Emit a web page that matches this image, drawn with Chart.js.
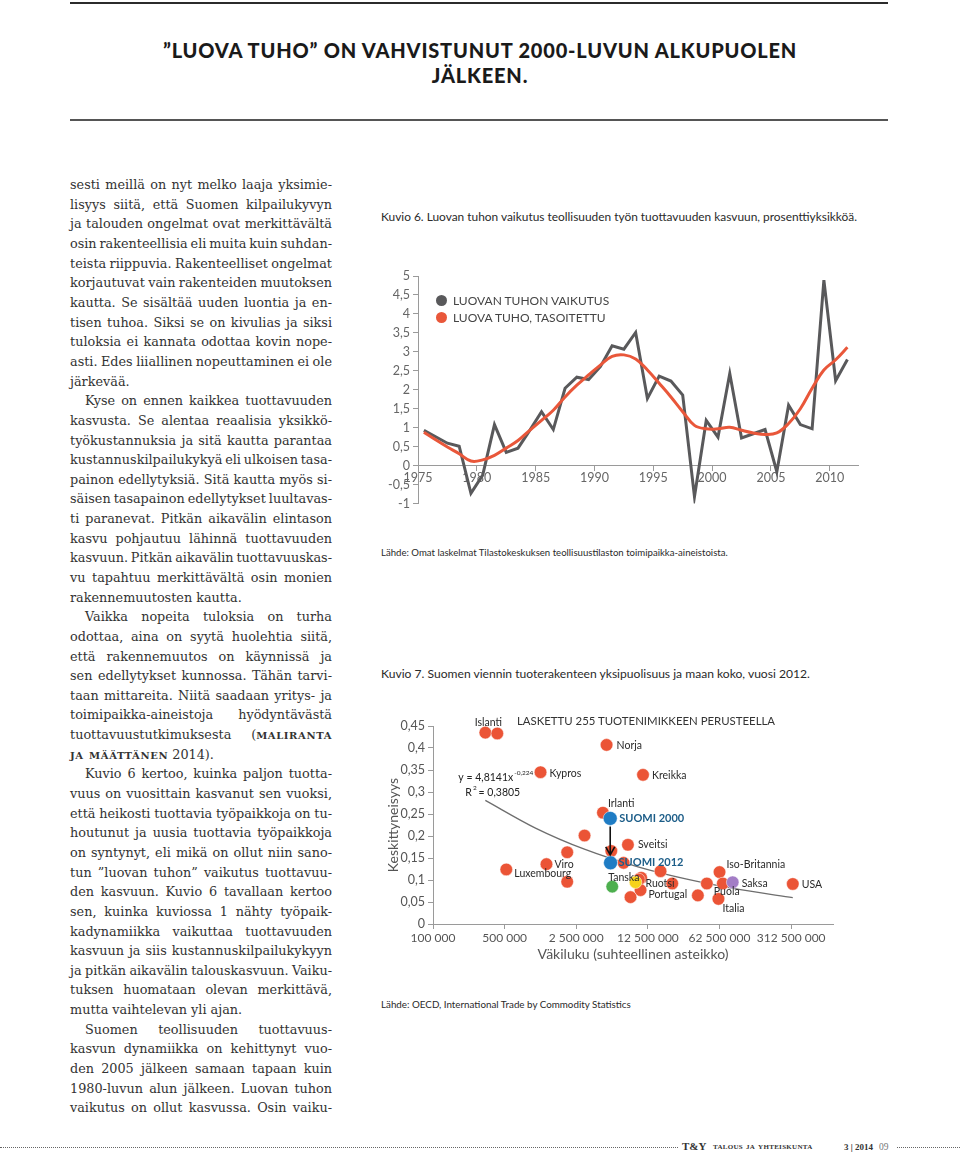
<!DOCTYPE html>
<html>
<head>
<meta charset="utf-8">
<script src="https://cdn.jsdelivr.net/npm/chart.js@4.4.1/dist/chart.umd.min.js"></script>
<style>
body{margin:0;width:960px;height:1155px;position:relative;background:#fff;overflow:hidden;font-family:Lato,sans-serif;color:#333}
.rule{position:absolute;left:70px;width:818px}
.head{position:absolute;left:0;width:960px;text-align:center;font:900 20px Lato,sans-serif;color:#1a1a1a;white-space:nowrap;line-height:24px}
.ln{position:absolute;white-space:nowrap;font:12.8px "DejaVu Serif",serif;color:#333;line-height:19.64px}
.ln .sc{font-size:1.08em;letter-spacing:.6px}
.sc{font-variant:small-caps;font-weight:bold;letter-spacing:.3px}
.cap{position:absolute;left:381px;white-space:nowrap;color:#2a2a2a}
.lg{position:absolute;left:436px;font:12px Lato,sans-serif;color:#444;line-height:16px;white-space:nowrap}
.lg i{display:inline-block;width:11px;height:11px;border-radius:50%;margin-right:6px;vertical-align:-1px}
canvas{position:absolute}
.dots{position:absolute;top:1147px;border-top:1px dotted #666;height:0}
.foot{position:absolute;top:1141px;font:bold 9px "Liberation Serif",serif;color:#333;white-space:nowrap;line-height:12px}
</style>
</head>
<body>
<div class="rule" style="top:2px;height:2px;background:#2b2b2b"></div>
<div class="head" style="top:38px" id="h1">”LUOVA TUHO” ON VAHVISTUNUT 2000-LUVUN ALKUPUOLEN</div>
<div class="head" style="top:63px">JÄLKEEN.</div>
<div class="rule" style="top:119px;height:2px;background:#555"></div>

<div class="cap" style="top:209px;font-size:11.9px">Kuvio 6. Luovan tuhon vaikutus teollisuuden työn tuottavuuden kasvuun, prosenttiyksikköä.</div>
<canvas id="kuvio6" width="490" height="252" style="left:380px;top:262px"></canvas>
<div class="lg" style="top:293px"><i style="background:#59595b"></i>LUOVAN TUHON VAIKUTUS</div>
<div class="lg" style="top:310px"><i style="background:#e9573a"></i>LUOVA TUHO, TASOITETTU</div>
<div class="cap" style="top:547px;font-size:9.6px">Lähde: Omat laskelmat Tilastokeskuksen teollisuustilaston toimipaikka-aineistoista.</div>

<div class="cap" style="top:666px;font-size:12.1px">Kuvio 7. Suomen viennin tuoterakenteen yksipuolisuus ja maan koko, vuosi 2012.</div>
<canvas id="kuvio7" width="470" height="262" style="left:380px;top:705px"></canvas>
<div class="cap" style="top:714px;left:517px;font-size:11.4px;color:#333">LASKETTU 255 TUOTENIMIKKEEN PERUSTEELLA</div>
<div class="cap" style="top:998px;font-size:9.8px">Lähde: OECD, International Trade by Commodity Statistics</div>

<div class="dots" style="left:0;width:678px"></div>
<div class="foot" style="left:682px;font-size:11px;top:1140px">T&amp;Y</div>
<div class="foot" style="left:713px;font-size:10.5px;top:1140px"><span class="sc">talous ja yhteiskunta</span></div>
<div class="foot" style="left:844px">3 | 2014</div>
<div class="foot" style="left:879px;font-weight:normal;color:#777;font-size:9.5px">09</div>
<div class="dots" style="left:897px;width:63px"></div>

<script>
// Kuvio 6 data
const years = [1975, 1976, 1977, 1978, 1979, 1980, 1981, 1982, 1983, 1984, 1985, 1986, 1987,
    1988, 1989, 1990, 1991, 1992, 1993, 1994, 1995, 1996, 1997, 1998, 1999, 2000,
    2001, 2002, 2003, 2004, 2005, 2006, 2007, 2008, 2009, 2010, 2011];
const impact = [0.93, 0.76, 0.59, 0.51, -0.73, -0.25, 1.08, 0.35, 0.46, 0.93, 1.42, 0.95, 2.04,
    2.33, 2.27, 2.61, 3.16, 3.07, 3.51, 1.77, 2.36, 2.23, 1.86, -0.82, 1.19, 0.75,
    2.43, 0.73, 0.84, 0.95, -0.16, 1.59, 1.08, 0.97, 4.89, 2.24, 2.8];
const impactSmoothed = [0.88, 0.68, 0.49, 0.31, 0.12, 0.15, 0.27, 0.46, 0.66, 0.93, 1.19, 1.46, 1.81,
    2.12, 2.39, 2.65, 2.88, 2.92, 2.81, 2.52, 2.17, 1.81, 1.42, 1.06, 0.97, 0.97,
    1.01, 0.93, 0.86, 0.82, 0.86, 1.11, 1.5, 2.04, 2.52, 2.79, 3.12];
const yearTicks = [1975, 1980, 1985, 1990, 1995, 2000, 2005, 2010];

// Kuvio 7 data
const countries = ['Islanti', '', 'Norja', 'Kypros', 'Kreikka', 'Irlanti', '', 'Sveitsi', '', '',
    '', 'Viro', 'Luxembourg', '', 'Iso-Britannia', '', '', '', '', '', '', 'USA', 'Portugal', '',
    'Puola', 'Italia', 'Ruotsi', 'Tanska', 'Saksa', 'SUOMI 2000', 'SUOMI 2012'];
const population = [324000, 424000, 4940000, 1120000, 11200000, 4550000, 3010000, 7980000, 2040000, 5490000,
    7240000, 1280000, 519000, 16600000, 62500000, 10750000, 10200000, 2040000, 21600000, 47000000, 67300000, 324000000, 10600000, 8460000,
    38400000, 61000000, 9470000, 5610000, 84000000, 5360000, 5400000];
const concentration = [0.435, 0.433, 0.407, 0.345, 0.339, 0.253, 0.201, 0.180, 0.163, 0.166,
    0.139, 0.136, 0.124, 0.120, 0.118, 0.105, 0.101, 0.096, 0.092, 0.092, 0.092, 0.091, 0.077, 0.061,
    0.065, 0.057, 0.095, 0.085, 0.095, 0.240, 0.139];
const markerGroup = ['o', 'o', 'o', 'o', 'o', 'o', 'o', 'o', 'o', 'o',
    'o', 'o', 'o', 'o', 'o', 'o', 'o', 'o', 'o', 'o', 'o', 'o', 'o', 'o',
    'o', 'o', 'swe', 'den', 'ger', 'fin', 'fin'];
const popTicks = [100000, 500000, 2500000, 12500000, 62500000, 312500000];
const popTickLabels = ['100 000', '500 000', '2 500 000', '12 500 000', '62 500 000', '312 500 000'];
const trendPopulation = [324000, 1000000, 3000000, 10000000, 30000000, 100000000, 324000000];
const trendConcentration = [0.281, 0.218, 0.170, 0.130, 0.102, 0.078, 0.060];

// body text, one entry per printed line
const bodyLines = [
    'sesti meillä on nyt melko laaja yksimie-',
    'lisyys siitä, että Suomen kilpailukyvyn',
    'ja talouden ongelmat ovat merkittävältä',
    'osin rakenteellisia eli muita kuin suhdan-',
    'teista riippuvia. Rakenteelliset ongelmat',
    'korjautuvat vain rakenteiden muutoksen',
    'kautta. Se sisältää uuden luontia ja en-',
    'tisen tuhoa. Siksi se on kivulias ja siksi',
    'tuloksia ei kannata odottaa kovin nope-',
    'asti. Edes liiallinen nopeuttaminen ei ole',
    'järkevää.',
    'Kyse on ennen kaikkea tuottavuuden',
    'kasvusta. Se alentaa reaalisia yksikkö-',
    'työkustannuksia ja sitä kautta parantaa',
    'kustannuskilpailukykyä eli ulkoisen tasa-',
    'painon edellytyksiä. Sitä kautta myös si-',
    'säisen tasapainon edellytykset luultavas-',
    'ti paranevat. Pitkän aikavälin elintason',
    'kasvu pohjautuu lähinnä tuottavuuden',
    'kasvuun. Pitkän aikavälin tuottavuuskas-',
    'vu tapahtuu merkittävältä osin monien',
    'rakennemuutosten kautta.',
    'Vaikka nopeita tuloksia on turha',
    'odottaa, aina on syytä huolehtia siitä,',
    'että rakennemuutos on käynnissä ja',
    'sen edellytykset kunnossa. Tähän tarvi-',
    'taan mittareita. Niitä saadaan yritys- ja',
    'toimipaikka-aineistoja hyödyntävästä',
    'tuottavuustutkimuksesta (<b class="sc">maliranta</b>',
    '<b class="sc">ja määttänen</b> 2014).',
    'Kuvio 6 kertoo, kuinka paljon tuotta-',
    'vuus on vuosittain kasvanut sen vuoksi,',
    'että heikosti tuottavia työpaikkoja on tu-',
    'houtunut ja uusia tuottavia työpaikkoja',
    'on syntynyt, eli mikä on ollut niin sano-',
    'tun ”luovan tuhon” vaikutus tuottavuu-',
    'den kasvuun. Kuvio 6 tavallaan kertoo',
    'sen, kuinka kuviossa 1 nähty työpaik-',
    'kadynamiikka vaikuttaa tuottavuuden',
    'kasvuun ja siis kustannuskilpailukykyyn',
    'ja pitkän aikavälin talouskasvuun. Vaiku-',
    'tuksen huomataan olevan merkittävä,',
    'mutta vaihtelevan yli ajan.',
    'Suomen teollisuuden tuottavuus-',
    'kasvun dynamiikka on kehittynyt vuo-',
    'den 2005 jälkeen samaan tapaan kuin',
    '1980-luvun alun jälkeen. Luovan tuhon',
    'vaikutus on ollut kasvussa. Osin vaiku-'
];
const paraStarts = [11, 22, 30, 43];
const paraEnds = [10, 21, 29, 42];

bodyLines.forEach((line, i) => {
    const div = document.createElement('div');
    const indent = paraStarts.includes(i) ? 15 : 0;
    div.className = 'ln';
    div.style.top = (175.2 + i * 19.64) + 'px';
    div.style.left = (70 + indent) + 'px';
    div.innerHTML = '<span>' + line + '</span>';
    document.body.appendChild(div);
    const span = div.firstChild;
    const target = 262 - indent;
    const w = span.getBoundingClientRect().width;
    const gaps = (span.textContent.match(/ /g) || []).length;
    if (!paraEnds.includes(i) && gaps) {
        span.style.wordSpacing = ((target - w) / gaps) + 'px';
    } else if (w > target) {
        span.style.letterSpacing = ((target - w) / span.textContent.length) + 'px';
    }
});

// stretch the headline to the printed width
const h1 = document.getElementById('h1');
const hs = document.createElement('span');
hs.textContent = h1.textContent;
h1.textContent = '';
h1.appendChild(hs);
const natural = hs.getBoundingClientRect().width;
hs.style.letterSpacing = ((634 - natural) / hs.textContent.length) + 'px';
document.querySelectorAll('.head')[1].style.letterSpacing = hs.style.letterSpacing;

const axisGrey = '#9a9a9a';
const tickFont = {family: 'Lato', size: 12.5};

new Chart(document.getElementById('kuvio6'), {
    type: 'line',
    data: {
        datasets: [{
            label: 'LUOVA TUHO, TASOITETTU',
            data: years.map((y, i) => ({x: y + 0.5, y: impactSmoothed[i]})),
            borderColor: '#e9573a',
            borderWidth: 3,
            tension: 0.4,
            pointRadius: 0
        }, {
            label: 'LUOVAN TUHON VAIKUTUS',
            data: years.map((y, i) => ({x: y + 0.5, y: impact[i]})),
            borderColor: '#59595b',
            borderWidth: 3,
            tension: 0,
            pointRadius: 0
        }]
    },
    options: {
        responsive: false,
        animation: false,
        devicePixelRatio: 1,
        layout: {padding: {top: 14, right: 12, bottom: 10, left: 0}},
        plugins: {legend: {display: false}, tooltip: {enabled: false}},
        scales: {
            x: {
                type: 'linear',
                position: {y: 0},
                min: 1975,
                max: 2012.4,
                afterBuildTicks: s => { s.ticks = yearTicks.map(v => ({value: v})); },
                grid: {drawOnChartArea: false, tickLength: 5, color: axisGrey},
                border: {color: axisGrey},
                ticks: {color: '#666', font: tickFont, padding: 0, maxRotation: 0, autoSkip: false,
                    callback: v => String(v)}
            },
            y: {
                min: -1,
                max: 5,
                afterFit: s => { s.width = 38; },
                grid: {drawOnChartArea: false, tickLength: 5, color: axisGrey},
                border: {color: axisGrey},
                ticks: {stepSize: 0.5, color: '#666', font: tickFont, padding: 3,
                    callback: v => String(v).replace('.', ',')}
            }
        }
    }
});

// country labels, offsets in px from the marker
const labelPos = {
    'Islanti': [3, -10, 'center'], 'Norja': [10, 1], 'Kypros': [9, 1], 'Kreikka': [9, 1],
    'Irlanti': [5, -9], 'SUOMI 2000': [9, 0], 'Sveitsi': [10, 0], 'SUOMI 2012': [8, 0],
    'Viro': [8, 0], 'Luxembourg': [8, 4], 'Iso-Britannia': [7, -7], 'Tanska': [-4, -9],
    'Ruotsi': [10, 1], 'Portugal': [8, 4], 'Saksa': [9, 1], 'USA': [9, 1], 'Puola': [16, -4],
    'Italia': [4, 10]
};
const groupColor = {o: '#eb5436', fin: '#1f7cc4', den: '#4daf4e', swe: '#f6d21c', ger: '#a37dc6'};

const scatterNotes = {
    id: 'scatterNotes',
    afterDatasetsDraw(chart) {
        const {ctx, scales: {x, y}} = chart;
        ctx.save();
        // arrow SUOMI 2000 -> SUOMI 2012
        const a = countries.indexOf('SUOMI 2000');
        const b = countries.indexOf('SUOMI 2012');
        const ax = x.getPixelForValue(population[a]);
        const y0 = y.getPixelForValue(concentration[a]) + 8;
        const y1 = y.getPixelForValue(concentration[b]) - 8;
        ctx.strokeStyle = '#111';
        ctx.lineWidth = 1.6;
        ctx.beginPath();
        ctx.moveTo(ax, y0);
        ctx.lineTo(ax, y1);
        ctx.moveTo(ax - 4.5, y1 - 8);
        ctx.lineTo(ax, y1);
        ctx.lineTo(ax + 4.5, y1 - 8);
        ctx.stroke();

        ctx.textBaseline = 'middle';
        countries.forEach((name, i) => {
            if (!name) return;
            const p = labelPos[name];
            const fin = markerGroup[i] === 'fin';
            ctx.font = (fin ? 'bold 11px' : '10.5px') + ' Lato';
            ctx.fillStyle = fin ? '#1c5d88' : '#2a2a2a';
            ctx.textAlign = p[2] || 'left';
            ctx.fillText(name, x.getPixelForValue(population[i]) + p[0], y.getPixelForValue(concentration[i]) + p[1]);
        });

        // regression text next to the start of the trend line
        const tx = x.getPixelForValue(trendPopulation[0]);
        const ty = y.getPixelForValue(trendConcentration[0]);
        ctx.textAlign = 'left';
        ctx.fillStyle = '#222';
        ctx.font = '10.5px Lato';
        ctx.fillText('y = 4,8141x', tx - 27, ty - 23);
        const ew = ctx.measureText('y = 4,8141x').width;
        ctx.font = '6.5px Lato';
        ctx.fillText('-0,224', tx - 27 + ew + 1, ty - 27);
        ctx.font = '10.5px Lato';
        ctx.fillText('R', tx - 20, ty - 8);
        const rw = ctx.measureText('R').width;
        ctx.font = '6.5px Lato';
        ctx.fillText('2', tx - 20 + rw + 1, ty - 12);
        ctx.font = '10.5px Lato';
        ctx.fillText(' = 0,3805', tx - 20 + rw + 4, ty - 8);
        ctx.restore();
    }
};

function groupData(g) {
    return countries.map((c, i) => ({x: population[i], y: concentration[i], g: markerGroup[i]}))
        .filter(p => g.includes(p.g));
}

new Chart(document.getElementById('kuvio7'), {
    type: 'scatter',
    data: {
        datasets: [{
            data: groupData(['fin', 'den', 'swe', 'ger']),
            pointRadius: ctx => (ctx.raw && ctx.raw.g === 'fin') ? 7 : 6.3,
            pointBackgroundColor: ctx => groupColor[ctx.raw ? ctx.raw.g : 'o'],
            pointBorderColor: 'rgba(255,255,255,0.6)',
            pointBorderWidth: 0.8
        }, {
            data: groupData(['o']),
            pointRadius: 6.3,
            pointBackgroundColor: groupColor.o,
            pointBorderColor: 'rgba(255,255,255,0.6)',
            pointBorderWidth: 0.8
        }, {
            type: 'line',
            data: trendPopulation.map((v, i) => ({x: v, y: trendConcentration[i]})),
            borderColor: '#6e6e6e',
            borderWidth: 1.3,
            pointRadius: 0,
            cubicInterpolationMode: 'monotone'
        }]
    },
    options: {
        responsive: false,
        animation: false,
        devicePixelRatio: 1,
        layout: {padding: {top: 21, right: 17, bottom: 0, left: 0}},
        plugins: {legend: {display: false}, tooltip: {enabled: false}},
        scales: {
            x: {
                type: 'logarithmic',
                min: 100000,
                max: 800000000,
                afterBuildTicks: s => { s.ticks = popTicks.map(v => ({value: v})); },
                afterFit: s => { s.height = 43; },
                grid: {drawOnChartArea: false, tickLength: 5, color: axisGrey},
                border: {color: axisGrey},
                ticks: {color: '#555', font: {family: 'Lato', size: 12}, padding: 2, maxRotation: 0,
                    autoSkip: false, callback: (v, i) => popTickLabels[i]},
                title: {display: true, text: 'Väkiluku (suhteellinen asteikko)', color: '#555',
                    font: {family: 'Lato', size: 14}, padding: {top: 0, bottom: 4}}
            },
            y: {
                min: 0,
                max: 0.45,
                afterFit: s => { s.width = 53; },
                grid: {drawOnChartArea: false, tickLength: 5, color: axisGrey},
                border: {color: axisGrey},
                ticks: {stepSize: 0.05, color: '#555', font: {family: 'Lato', size: 12.5}, padding: 3,
                    callback: v => String(Math.round(v * 100) / 100).replace('.', ',')},
                title: {display: true, text: 'Keskittyneisyys', color: '#555',
                    font: {family: 'Lato', size: 14}, padding: {top: 5, bottom: 0}}
            }
        }
    },
    plugins: [scatterNotes]
});
</script>
</body>
</html>
